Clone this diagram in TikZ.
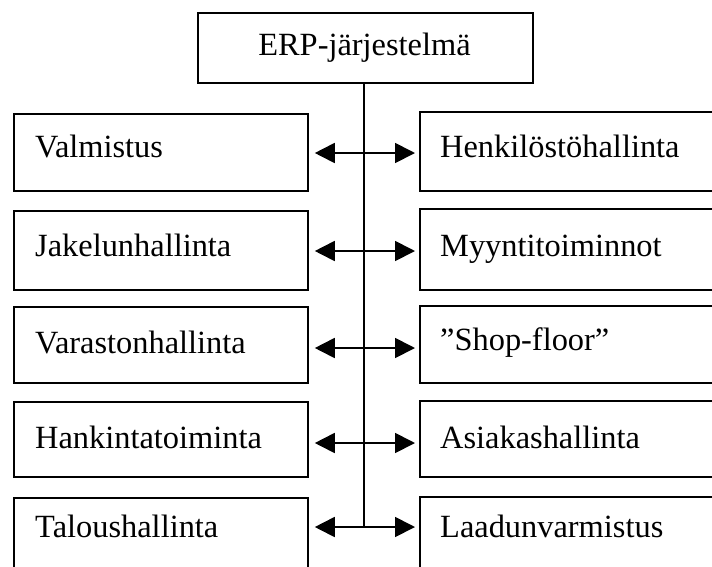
\documentclass[tikz,border=0pt]{standalone}
\usepackage{fontspec}
\setmainfont{Liberation Serif}
\usetikzlibrary{arrows.meta}
\begin{document}
\begin{tikzpicture}[x=1pt,y=1pt,
  box/.style={draw=black, line width=1.8pt, rectangle, inner sep=0pt, anchor=north west},
  lbl/.style={inner sep=0pt, anchor=base west, font=\fontsize{32.4}{38}\selectfont},
  spine/.style={line width=1.8pt},
  bigtip/.tip={Triangle[length=20pt 0 0, width=20pt 0 0]},
  biarrow/.style={line width=1.8pt, bigtip-bigtip, shorten <=6pt, shorten >=4pt}]
\useasboundingbox (0,0) rectangle (712,-566);
% top box
\node[box, minimum width=335pt, minimum height=70pt] (erp) at (197,-12) {};
\node[inner sep=0pt, font=\fontsize{32.4}{38}\selectfont, anchor=base] (erpt) at (364.5,-55) {ERP-järjestelmä};
% left boxes
\node[box, minimum width=294pt, minimum height=77pt] (l1) at (13,-113) {};
\node[box, minimum width=294pt, minimum height=79pt] (l2) at (13,-210) {};
\node[box, minimum width=294pt, minimum height=76pt] (l3) at (13,-306) {};
\node[box, minimum width=294pt, minimum height=75pt] (l4) at (13,-401) {};
\node[box, minimum width=294pt, minimum height=100pt] (l5) at (13,-497) {};
% right boxes
\node[box, minimum width=310pt, minimum height=79pt] (r1) at (419,-111) {};
\node[box, minimum width=310pt, minimum height=81pt] (r2) at (419,-208) {};
\node[box, minimum width=310pt, minimum height=77pt] (r3) at (419,-305) {};
\node[box, minimum width=310pt, minimum height=76pt] (r4) at (419,-400) {};
\node[box, minimum width=310pt, minimum height=100pt] (r5) at (419,-496) {};
% labels
\node[lbl] (t1) at (35,-157) {Valmistus};
\node[lbl] (t2) at (35,-256) {Jakelunhallinta};
\node[lbl] (t3) at (35,-353) {Varastonhallinta};
\node[lbl] (t4) at (35,-448) {Hankintatoiminta};
\node[lbl] (t5) at (35,-537) {Taloushallinta};
\node[lbl] (u1) at (440,-157) {Henkilöstöhallinta};
\node[lbl] (u2) at (440,-256) {Myyntitoiminnot};
\node[lbl] (u3) at (440,-350) {”Shop-floor”};
\node[lbl] (u4) at (440,-448) {Asiakashallinta};
\node[lbl] (u5) at (440,-537) {Laadunvarmistus};
% spine junctions
\coordinate (j1) at (364,-153);
\coordinate (j2) at (364,-251);
\coordinate (j3) at (364,-348);
\coordinate (j4) at (364,-443);
\coordinate (j5) at (364,-527);
\draw[spine] (erp.south -| j1) -- (j5);
\foreach \i in {1,...,5}{
  \draw[biarrow] (l\i.east |- j\i) -- (r\i.west |- j\i);
}
\end{tikzpicture}
\end{document}
